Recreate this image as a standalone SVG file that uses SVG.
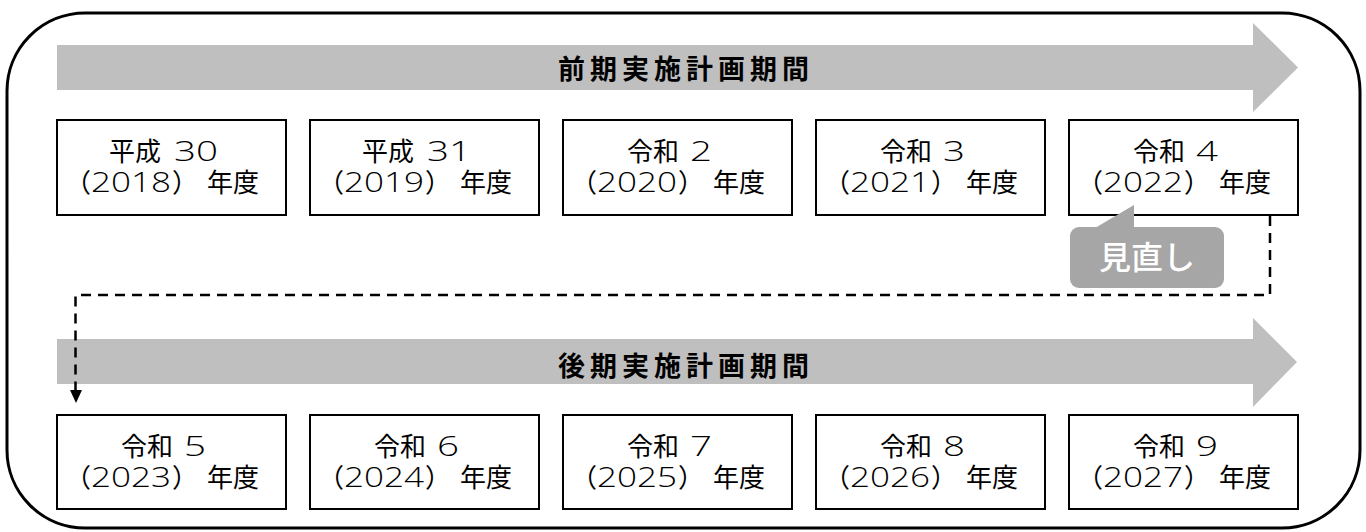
<svg xmlns="http://www.w3.org/2000/svg" width="1366" height="532" viewBox="0 0 1366 532">
  <defs>
    <style>
      .frame{fill:#ffffff;stroke:#000;stroke-width:3}
      .band{fill:#bfbfbf}
      .title{font-family:"Noto Sans CJK JP","Noto Sans",sans-serif;font-size:27px;font-weight:700;fill:#000;text-anchor:middle}
      .box{fill:#fff;stroke:#000;stroke-width:2}
      .lbl{font-family:"Noto Sans CJK JP","Noto Sans",sans-serif;font-size:26px;fill:#000}
      .num{font-family:"Open Sans","Liberation Sans",sans-serif;font-size:27px;font-weight:300}
      .dash{fill:none;stroke:#000;stroke-width:2.5;stroke-dasharray:10 7}
      .callout{fill:#a6a6a6}
      .ctext{font-family:"Noto Sans CJK JP","Noto Sans",sans-serif;font-size:32px;font-weight:500;fill:#fff;text-anchor:middle}
    </style>
  </defs>

  <rect class="frame" x="7" y="13" width="1353" height="515" rx="78" ry="78"/>

  <g id="phase1">
    <polygon class="band" points="57,45 1253,45 1253,23 1298,67.5 1253,112 1253,90 57,90"/>
    <text class="title" x="686" y="79" letter-spacing="5">前期実施計画期間</text>
  </g>

  <g id="phase2">
    <polygon class="band" points="57,339 1253,339 1253,318 1297,362 1253,407 1253,384 57,384"/>
    <text class="title" x="686" y="376" letter-spacing="5">後期実施計画期間</text>
  </g>

  <g id="connectors">
    <path class="dash" d="M1270,216 V295 H75.5 V390"/>
    <polygon points="70,390 82,390 76,403" fill="#000"/>
  </g>

  <g id="y2018">
    <rect class="box" x="57" y="120" width="229" height="95"/>
    <text class="lbl" y="161"><tspan x="109">平成</tspan> <tspan class="num" x="174" textLength="44" lengthAdjust="spacingAndGlyphs">30</tspan></text>
    <text class="lbl" y="192"><tspan x="65">（</tspan><tspan class="num" x="91" textLength="80" lengthAdjust="spacingAndGlyphs">2018</tspan><tspan x="172">）</tspan><tspan x="207">年度</tspan></text>
  </g>
  <g id="y2019">
    <rect class="box" x="310" y="120" width="229" height="95"/>
    <text class="lbl" y="161"><tspan x="362">平成</tspan> <tspan class="num" x="427" textLength="44" lengthAdjust="spacingAndGlyphs">31</tspan></text>
    <text class="lbl" y="192"><tspan x="318">（</tspan><tspan class="num" x="344" textLength="80" lengthAdjust="spacingAndGlyphs">2019</tspan><tspan x="425">）</tspan><tspan x="460">年度</tspan></text>
  </g>
  <g id="y2020">
    <rect class="box" x="563" y="120" width="229" height="95"/>
    <text class="lbl" y="161"><tspan x="627">令和</tspan> <tspan class="num" x="690" textLength="22" lengthAdjust="spacingAndGlyphs">2</tspan></text>
    <text class="lbl" y="192"><tspan x="571">（</tspan><tspan class="num" x="597" textLength="80" lengthAdjust="spacingAndGlyphs">2020</tspan><tspan x="678">）</tspan><tspan x="713">年度</tspan></text>
  </g>
  <g id="y2021">
    <rect class="box" x="816" y="120" width="229" height="95"/>
    <text class="lbl" y="161"><tspan x="880">令和</tspan> <tspan class="num" x="943" textLength="22" lengthAdjust="spacingAndGlyphs">3</tspan></text>
    <text class="lbl" y="192"><tspan x="824">（</tspan><tspan class="num" x="850" textLength="80" lengthAdjust="spacingAndGlyphs">2021</tspan><tspan x="931">）</tspan><tspan x="966">年度</tspan></text>
  </g>
  <g id="y2022">
    <rect class="box" x="1069" y="120" width="229" height="95"/>
    <text class="lbl" y="161"><tspan x="1133">令和</tspan> <tspan class="num" x="1196" textLength="22" lengthAdjust="spacingAndGlyphs">4</tspan></text>
    <text class="lbl" y="192"><tspan x="1077">（</tspan><tspan class="num" x="1103" textLength="80" lengthAdjust="spacingAndGlyphs">2022</tspan><tspan x="1184">）</tspan><tspan x="1219">年度</tspan></text>
  </g>

  <g id="review">
    <polygon class="callout" points="1095,228 1134,205 1134,228"/>
    <rect class="callout" x="1070" y="227" width="154" height="61" rx="9" ry="9"/>
    <text class="ctext" x="1147" y="269">見直し</text>
  </g>

  <g id="y2023">
    <rect class="box" x="57" y="415" width="229" height="94"/>
    <text class="lbl" y="456"><tspan x="121">令和</tspan> <tspan class="num" x="184" textLength="22" lengthAdjust="spacingAndGlyphs">5</tspan></text>
    <text class="lbl" y="487"><tspan x="65">（</tspan><tspan class="num" x="91" textLength="80" lengthAdjust="spacingAndGlyphs">2023</tspan><tspan x="172">）</tspan><tspan x="207">年度</tspan></text>
  </g>
  <g id="y2024">
    <rect class="box" x="310" y="415" width="229" height="94"/>
    <text class="lbl" y="456"><tspan x="374">令和</tspan> <tspan class="num" x="437" textLength="22" lengthAdjust="spacingAndGlyphs">6</tspan></text>
    <text class="lbl" y="487"><tspan x="318">（</tspan><tspan class="num" x="344" textLength="80" lengthAdjust="spacingAndGlyphs">2024</tspan><tspan x="425">）</tspan><tspan x="460">年度</tspan></text>
  </g>
  <g id="y2025">
    <rect class="box" x="563" y="415" width="229" height="94"/>
    <text class="lbl" y="456"><tspan x="627">令和</tspan> <tspan class="num" x="690" textLength="22" lengthAdjust="spacingAndGlyphs">7</tspan></text>
    <text class="lbl" y="487"><tspan x="571">（</tspan><tspan class="num" x="597" textLength="80" lengthAdjust="spacingAndGlyphs">2025</tspan><tspan x="678">）</tspan><tspan x="713">年度</tspan></text>
  </g>
  <g id="y2026">
    <rect class="box" x="816" y="415" width="229" height="94"/>
    <text class="lbl" y="456"><tspan x="880">令和</tspan> <tspan class="num" x="943" textLength="22" lengthAdjust="spacingAndGlyphs">8</tspan></text>
    <text class="lbl" y="487"><tspan x="824">（</tspan><tspan class="num" x="850" textLength="80" lengthAdjust="spacingAndGlyphs">2026</tspan><tspan x="931">）</tspan><tspan x="966">年度</tspan></text>
  </g>
  <g id="y2027">
    <rect class="box" x="1069" y="415" width="229" height="94"/>
    <text class="lbl" y="456"><tspan x="1133">令和</tspan> <tspan class="num" x="1196" textLength="22" lengthAdjust="spacingAndGlyphs">9</tspan></text>
    <text class="lbl" y="487"><tspan x="1077">（</tspan><tspan class="num" x="1103" textLength="80" lengthAdjust="spacingAndGlyphs">2027</tspan><tspan x="1184">）</tspan><tspan x="1219">年度</tspan></text>
  </g>
</svg>
